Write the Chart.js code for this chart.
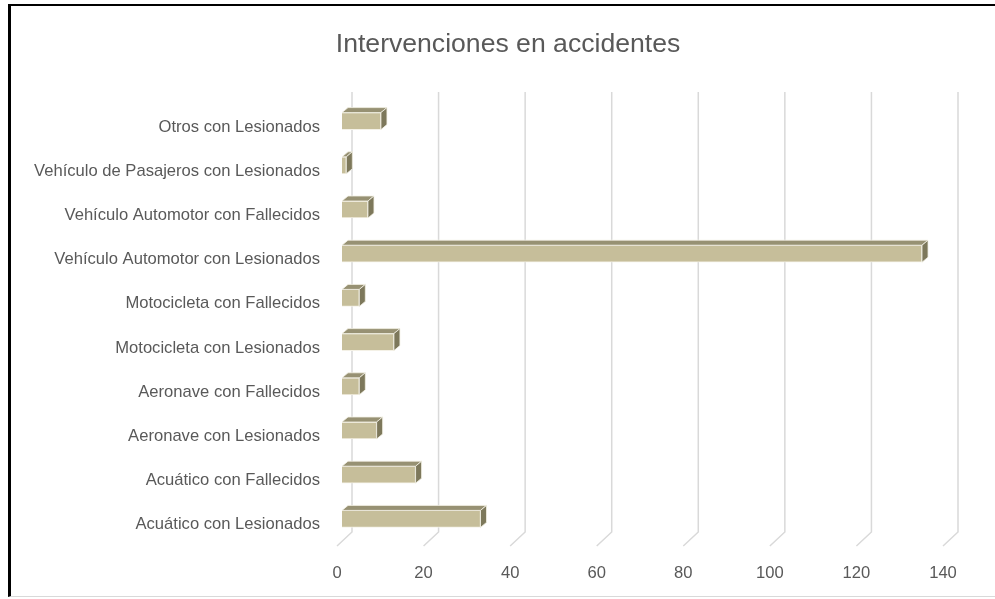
<!DOCTYPE html>
<html>
<head>
<meta charset="utf-8">
<script src="https://cdn.jsdelivr.net/npm/chart.js@4.4.1/dist/chart.umd.min.js"></script>
<style>
  html, body { margin: 0; padding: 0; background: #ffffff; }
  #wrap { position: relative; width: 995px; height: 599px; overflow: hidden; background: #fff; }
  #frame { position: absolute; left: 8px; top: 4px; width: 1000px; height: 593px;
           border-left: 3px solid #000; border-top: 2px solid #000; border-bottom: 1px solid #d9d9d9; box-sizing: border-box; }
  canvas { position: absolute; left: 0; top: 0; }
</style>
</head>
<body>
<div id="wrap">
  <div id="frame"></div>
  <canvas id="c" width="995" height="599"></canvas>
</div>
<script>
// ---- data (top to bottom as shown) ----
const chartTitle = "Intervenciones en accidentes";
const categories = [
  "Otros con Lesionados",
  "Vehículo de Pasajeros con Lesionados",
  "Vehículo Automotor con Fallecidos",
  "Vehículo Automotor con Lesionados",
  "Motocicleta con Fallecidos",
  "Motocicleta con Lesionados",
  "Aeronave con Fallecidos",
  "Aeronave con Lesionados",
  "Acuático con Fallecidos",
  "Acuático con Lesionados"
];
const values = [9, 1, 6, 134, 4, 12, 4, 8, 17, 32];
const xTicks = [0, 20, 40, 60, 80, 100, 120, 140];

// ---- styling helpers ----
const FAMILY = "'Liberation Sans', Arial, sans-serif";
function fitSize(text, weight, target) {
  const ctx = document.createElement('canvas').getContext('2d');
  ctx.font = weight + ' 100px ' + FAMILY;
  return Math.round(100 * target / ctx.measureText(text).width * 10) / 10;
}
const labelSize = fitSize("Vehículo de Pasajeros con Lesionados", 'normal', 286);
const titleSize = fitSize(chartTitle, 'normal', 344);

const FRONT = '#c6be9a', TOPC = '#979173', SIDE = '#7d785b', EDGE = '#f4f1e6';
const DX = 6, DY = 5;

const depthPlugin = {
  id: 'depth',
  beforeDatasetsDraw(chart) {
    const ctx = chart.ctx, xs = chart.scales.x;
    ctx.save();
    ctx.strokeStyle = '#d9d9d9';
    ctx.lineWidth = 1.5;
    xTicks.forEach(v => {
      const px = xs.getPixelForValue(v);
      ctx.beginPath();
      ctx.moveTo(px + 10, 92);
      ctx.lineTo(px + 10, 532);
      ctx.lineTo(px - 5, 546);
      ctx.stroke();
    });
    ctx.restore();
  },
  afterDatasetsDraw(chart) {
    const ctx = chart.ctx;
    const meta = chart.getDatasetMeta(0);
    ctx.save();
    meta.data.forEach(el => {
      const p = el.getProps(['x', 'y', 'base', 'height'], true);
      const l = p.base, r = p.x, t = p.y - p.height / 2, b = p.y + p.height / 2;
      // top face
      ctx.beginPath();
      ctx.moveTo(l, t); ctx.lineTo(l + DX, t - DY); ctx.lineTo(r + DX, t - DY); ctx.lineTo(r, t); ctx.closePath();
      ctx.fillStyle = TOPC; ctx.fill();
      ctx.strokeStyle = EDGE; ctx.lineWidth = 0.8; ctx.stroke();
      // side face
      ctx.beginPath();
      ctx.moveTo(r, t); ctx.lineTo(r + DX, t - DY); ctx.lineTo(r + DX, b - DY); ctx.lineTo(r, b); ctx.closePath();
      ctx.fillStyle = SIDE; ctx.fill();
      ctx.strokeStyle = EDGE; ctx.lineWidth = 0.8; ctx.stroke();
    });
    ctx.restore();
  },
  afterDraw(chart) {
    const ctx = chart.ctx;
    ctx.save();
    ctx.font = 'normal ' + titleSize + 'px ' + FAMILY;
    ctx.fillStyle = '#595959';
    ctx.textAlign = 'center';
    ctx.textBaseline = 'middle';
    ctx.fillText(chartTitle, 508, 45);
    ctx.restore();
  }
};

new Chart(document.getElementById('c'), {
  type: 'bar',
  data: {
    labels: categories,
    datasets: [{
      data: values,
      backgroundColor: FRONT,
      borderColor: EDGE,
      borderWidth: 1,
      barThickness: 17
    }]
  },
  options: {
    indexAxis: 'y',
    responsive: false,
    animation: false,
    layout: { padding: { top: 99, right: 47, left: 0, bottom: 0 } },
    plugins: { legend: { display: false }, tooltip: { enabled: false }, title: { display: false } },
    scales: {
      x: {
        type: 'linear', min: 0, max: 140,
        afterBuildTicks(scale) { scale.ticks = xTicks.map(v => ({ value: v })); },
        afterFit(scale) { scale.height = 58; },
        grid: { display: false, drawTicks: false },
        border: { display: false },
        ticks: { color: '#595959', font: { family: FAMILY, size: labelSize }, padding: 22, labelOffset: -5, maxRotation: 0 }
      },
      y: {
        type: 'category',
        afterFit(scale) { scale.width = 342; },
        grid: { display: false, drawTicks: false },
        border: { display: false },
        ticks: { color: '#595959', font: { family: FAMILY, size: labelSize }, padding: 22, labelOffset: 6, autoSkip: false }
      }
    }
  },
  plugins: [depthPlugin]
});
</script>
</body>
</html>
